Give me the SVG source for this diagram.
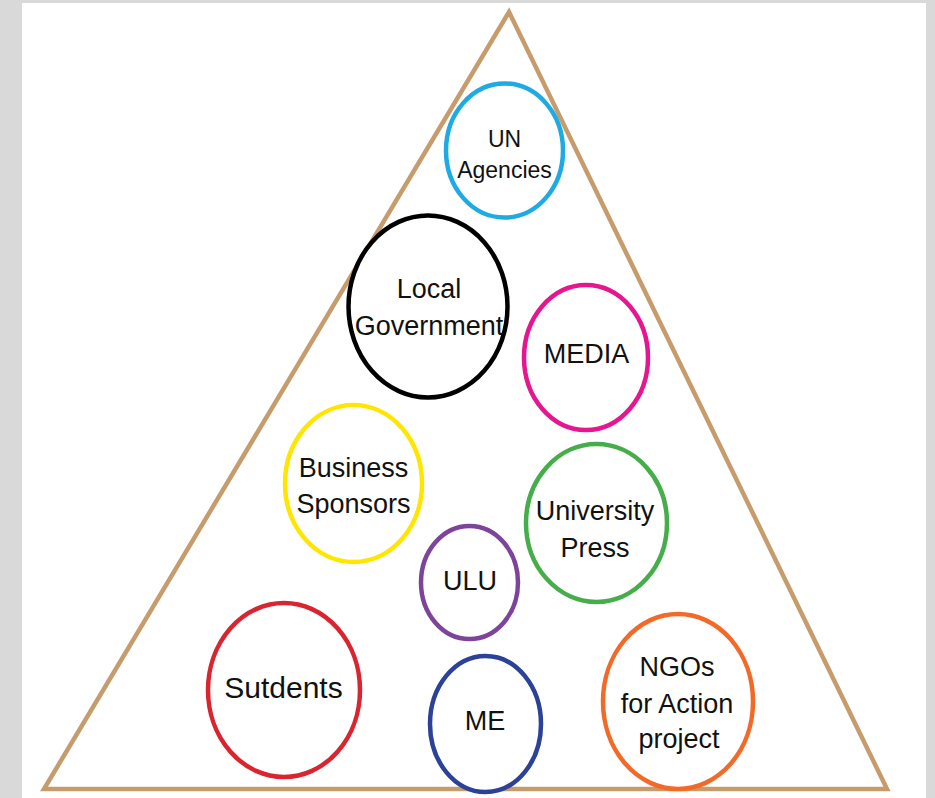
<svg xmlns="http://www.w3.org/2000/svg" width="935" height="798" viewBox="0 0 935 798">
  <style>
    .ring { fill: #ffffff; stroke-width: 4.5; }
    .lbl { font-family: "Liberation Sans", Arial, sans-serif; font-size: 27px; fill: #111111; text-anchor: middle; }
  </style>
  <!-- page frame -->
  <rect x="0" y="0" width="935" height="798" fill="#d9d9d9"/>
  <rect x="22" y="3" width="904" height="795" fill="#ffffff"/>

  <!-- pyramid outline -->
  <g id="pyramid">
    <polygon points="509,12 887,789 44,789" fill="none" stroke="#c69c6c" stroke-width="4.5" stroke-linejoin="miter"/>
  </g>

  <g id="connectors"></g>

  <g id="un-agencies">
    <ellipse class="ring" cx="504.5" cy="150.5" rx="58.5" ry="67" stroke="#1eaae3"/>
    <text class="lbl" style="font-size:23px" x="504.5" y="147">UN</text>
    <text class="lbl" style="font-size:23px" x="504.5" y="178">Agencies</text>
  </g>

  <g id="local-government">
    <ellipse class="ring" cx="428" cy="306.5" rx="79.5" ry="91" stroke="#000000"/>
    <text class="lbl" x="429" y="298">Local</text>
    <text class="lbl" x="429" y="335">Government</text>
  </g>

  <g id="media">
    <ellipse class="ring" cx="586" cy="357.5" rx="62" ry="72.5" stroke="#e5168f"/>
    <text class="lbl" x="586.5" y="363">MEDIA</text>
  </g>

  <g id="business-sponsors">
    <ellipse class="ring" cx="353.5" cy="483.5" rx="68.5" ry="78.5" stroke="#ffe600"/>
    <text class="lbl" x="353.5" y="477">Business</text>
    <text class="lbl" x="353.5" y="513">Sponsors</text>
  </g>

  <g id="university-press">
    <ellipse class="ring" cx="596.5" cy="523" rx="70.5" ry="79" stroke="#45ae4a"/>
    <text class="lbl" x="595" y="520">University</text>
    <text class="lbl" x="595" y="557">Press</text>
  </g>

  <g id="ulu">
    <ellipse class="ring" cx="469.5" cy="582.5" rx="48.5" ry="56.5" stroke="#7d4499"/>
    <text class="lbl" x="470" y="590">ULU</text>
  </g>

  <g id="students">
    <ellipse class="ring" cx="284" cy="690" rx="76" ry="87" stroke="#d9252f"/>
    <text class="lbl" style="font-size:30px" x="283.5" y="698">Sutdents</text>
  </g>

  <g id="me">
    <ellipse class="ring" cx="485.5" cy="724" rx="55.5" ry="68" stroke="#2b4298"/>
    <text class="lbl" x="485" y="730">ME</text>
  </g>

  <g id="ngos">
    <ellipse class="ring" cx="678" cy="701.5" rx="75" ry="87.5" stroke="#f36a28"/>
    <text class="lbl" x="677" y="676">NGOs</text>
    <text class="lbl" x="677" y="713">for Action</text>
    <text class="lbl" x="679" y="748">project</text>
  </g>
</svg>
